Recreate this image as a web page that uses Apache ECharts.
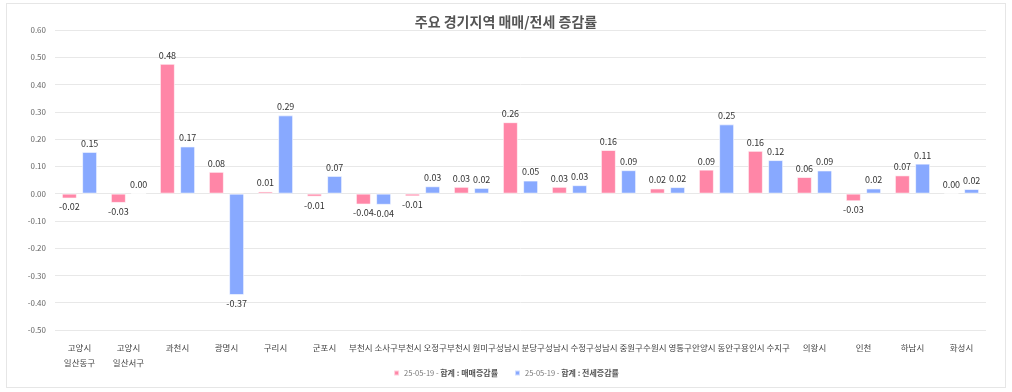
<!DOCTYPE html>
<html><head><meta charset="utf-8">
<script src="https://cdn.jsdelivr.net/npm/echarts@6/dist/echarts.min.js"></script>
<style>
html,body{margin:0;padding:0;background:#fff;}
#box{position:absolute;left:6px;top:3px;width:1000px;height:385px;border:1px solid #e6e6e6;box-sizing:border-box;}
#c{position:absolute;left:0;top:0;width:1012px;height:392px;}
</style></head>
<body><div id="box"></div><div id="c"></div>
<script>
const categories = ['고양시\n일산동구','고양시\n일산서구','과천시','광명시','구리시','군포시','부천시 소사구','부천시 오정구','부천시 원미구','성남시 분당구','성남시 수정구','성남시 중원구','수원시 영통구','안양시 동안구','용인시 수지구','의왕시','인천','하남시','화성시'];
const saleChange = [-0.018,-0.034,0.476,0.080,0.008,-0.011,-0.040,-0.010,0.025,0.262,0.025,0.160,0.019,0.088,0.157,0.061,-0.028,0.067,0.003];
const jeonseChange = [0.153,0.000,0.173,-0.372,0.287,0.065,-0.041,0.027,0.021,0.048,0.031,0.086,0.024,0.254,0.123,0.085,0.019,0.110,0.017];
const seriesNames = ['매매증감률','전세증감률'];
const yTicks = {min:-0.5, max:0.6, interval:0.1};

const chart = echarts.init(document.getElementById('c'));
const font = 'Noto Sans CJK KR, Noto Sans, sans-serif';
const lbl = {show:true, fontSize:9, color:'#333', fontFamily:font, distance:4,
  formatter: p => p.value.toFixed(2)};
function mk(name, data, color){
  return {name:name, type:'bar', data:data.map(v=>({value:v, label:{position: v<0?'bottom':'top'}})),
    barWidth:15, barGap:'35%',
    itemStyle:{color:color, borderColor:'rgba(255,255,255,0.6)', borderWidth:1},
    label:lbl};
}
chart.setOption({
  animation:false,
  title:{text:'주요 경기지역 매매/전세 증감률', left:'center', top:10,
    textStyle:{fontSize:14, fontWeight:'bold', color:'#555', fontFamily:font}},
  grid:{left:55, right:26, top:30, bottom:62, containLabel:false},
  legend:{bottom:10, left:'center', itemWidth:5, itemHeight:5, itemGap:16, icon:'rect',
    textStyle:{fontSize:7.5, color:'#777', fontFamily:font,
      rich:{b:{fontSize:8, fontWeight:'bold', color:'#555', fontFamily:font}}},
    formatter: n => '25-05-19 - {b|합계 : ' + n + '}'},
  xAxis:{type:'category', data:categories,
    axisLine:{show:false}, axisTick:{show:false},
    axisLabel:{interval:0, fontSize:8.5, color:'#444', lineHeight:15, margin:10, fontFamily:font}},
  yAxis:{type:'value', min:yTicks.min, max:yTicks.max, interval:yTicks.interval,
    axisLabel:{fontSize:8, color:'#666', formatter:v=>v.toFixed(2), margin:9, fontFamily:font},
    splitLine:{lineStyle:{color:'#e8e8e8'}}},
  series:[mk(seriesNames[0], saleChange, '#FF86A7'), mk(seriesNames[1], jeonseChange, '#88A9FF')]
});
</script></body></html>
